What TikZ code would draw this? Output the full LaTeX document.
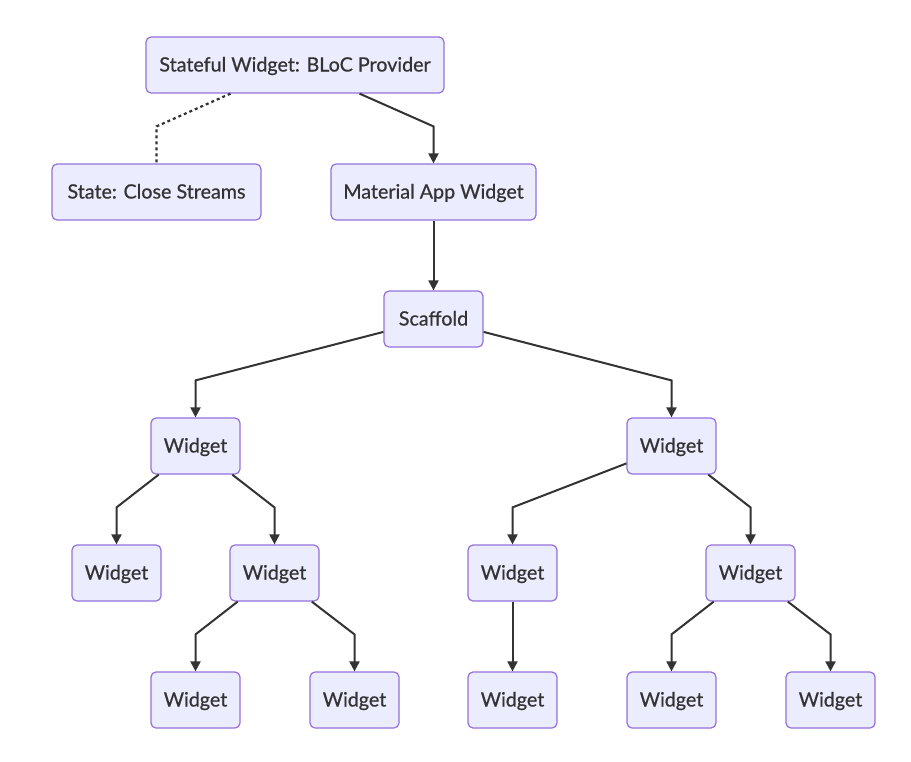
\documentclass[tikz,border=0pt]{standalone}
\usepackage{fontspec}
\setmainfont{Lato}
\newfontfamily\nodefont{Lato}[RawFeature={embolden=0.6}]
\usetikzlibrary{arrows.meta,calc}
\definecolor{nodefill}{HTML}{ECECFF}
\definecolor{nodeborder}{HTML}{9370DB}
\definecolor{edge}{HTML}{333333}
\tikzset{
  box/.style={draw=nodeborder, fill=nodefill, line width=1.2pt, rounded corners=5pt,
    minimum height=56pt, inner sep=0pt, text=edge, text height=13pt, text depth=0pt,
    font=\nodefont\fontsize{19.7pt}{23pt}\selectfont},
  wbox/.style={box, minimum width=89pt},
  arr/.style={draw=edge, line width=2pt, -{Triangle[length=10pt,width=10pt]}},
  dotline/.style={draw=edge, line width=2.2pt, dash pattern=on 3pt off 3pt},
}
\begin{document}
\begin{tikzpicture}[x=1pt,y=-1pt]
\useasboundingbox (0,0) rectangle (911,761);
\node[box, minimum width=298pt] (top) at (295,65) {Stateful Widget: BLoC Provider};
\node[box, minimum width=209pt] (state) at (156.5,192) {State: Close Streams};
\node[box, minimum width=205pt] (mat) at (433.5,192) {Material App Widget};
\node[box, minimum width=99pt] (sc) at (433.5,319) {Scaffold};
\node[wbox] (w1) at (195.5,446) {Widget};
\node[wbox] (w2) at (671.5,446) {Widget};
\node[wbox] (w3) at (116.5,573) {Widget};
\node[wbox] (w4) at (274.5,573) {Widget};
\node[wbox] (w5) at (512.5,573) {Widget};
\node[wbox] (w6) at (750.5,573) {Widget};
\node[wbox] (w7) at (195.5,700) {Widget};
\node[wbox] (w8) at (354.5,700) {Widget};
\node[wbox] (w9) at (512.5,700) {Widget};
\node[wbox] (w10) at (671.5,700) {Widget};
\node[wbox] (w11) at (830.5,700) {Widget};
\draw[dotline] (top) -- ($(state.north)+(0,-37)$) -- (state.north);
\draw[arr] (top) -- ($(mat.north)+(0,-37)$) -- (mat.north);
\draw[arr] (mat) -- (sc);
\draw[arr] (sc) -- ($(w1.north)+(0,-37)$) -- (w1.north);
\draw[arr] (sc) -- ($(w2.north)+(0,-37)$) -- (w2.north);
\draw[arr] (w1) -- ($(w3.north)+(0,-37)$) -- (w3.north);
\draw[arr] (w1) -- ($(w4.north)+(0,-37)$) -- (w4.north);
\draw[arr] (w2) -- ($(w5.north)+(0,-37)$) -- (w5.north);
\draw[arr] (w2) -- ($(w6.north)+(0,-37)$) -- (w6.north);
\draw[arr] (w4) -- ($(w7.north)+(0,-37)$) -- (w7.north);
\draw[arr] (w4) -- ($(w8.north)+(0,-37)$) -- (w8.north);
\draw[arr] (w5) -- (w9);
\draw[arr] (w6) -- ($(w10.north)+(0,-37)$) -- (w10.north);
\draw[arr] (w6) -- ($(w11.north)+(0,-37)$) -- (w11.north);
\end{tikzpicture}
\end{document}
